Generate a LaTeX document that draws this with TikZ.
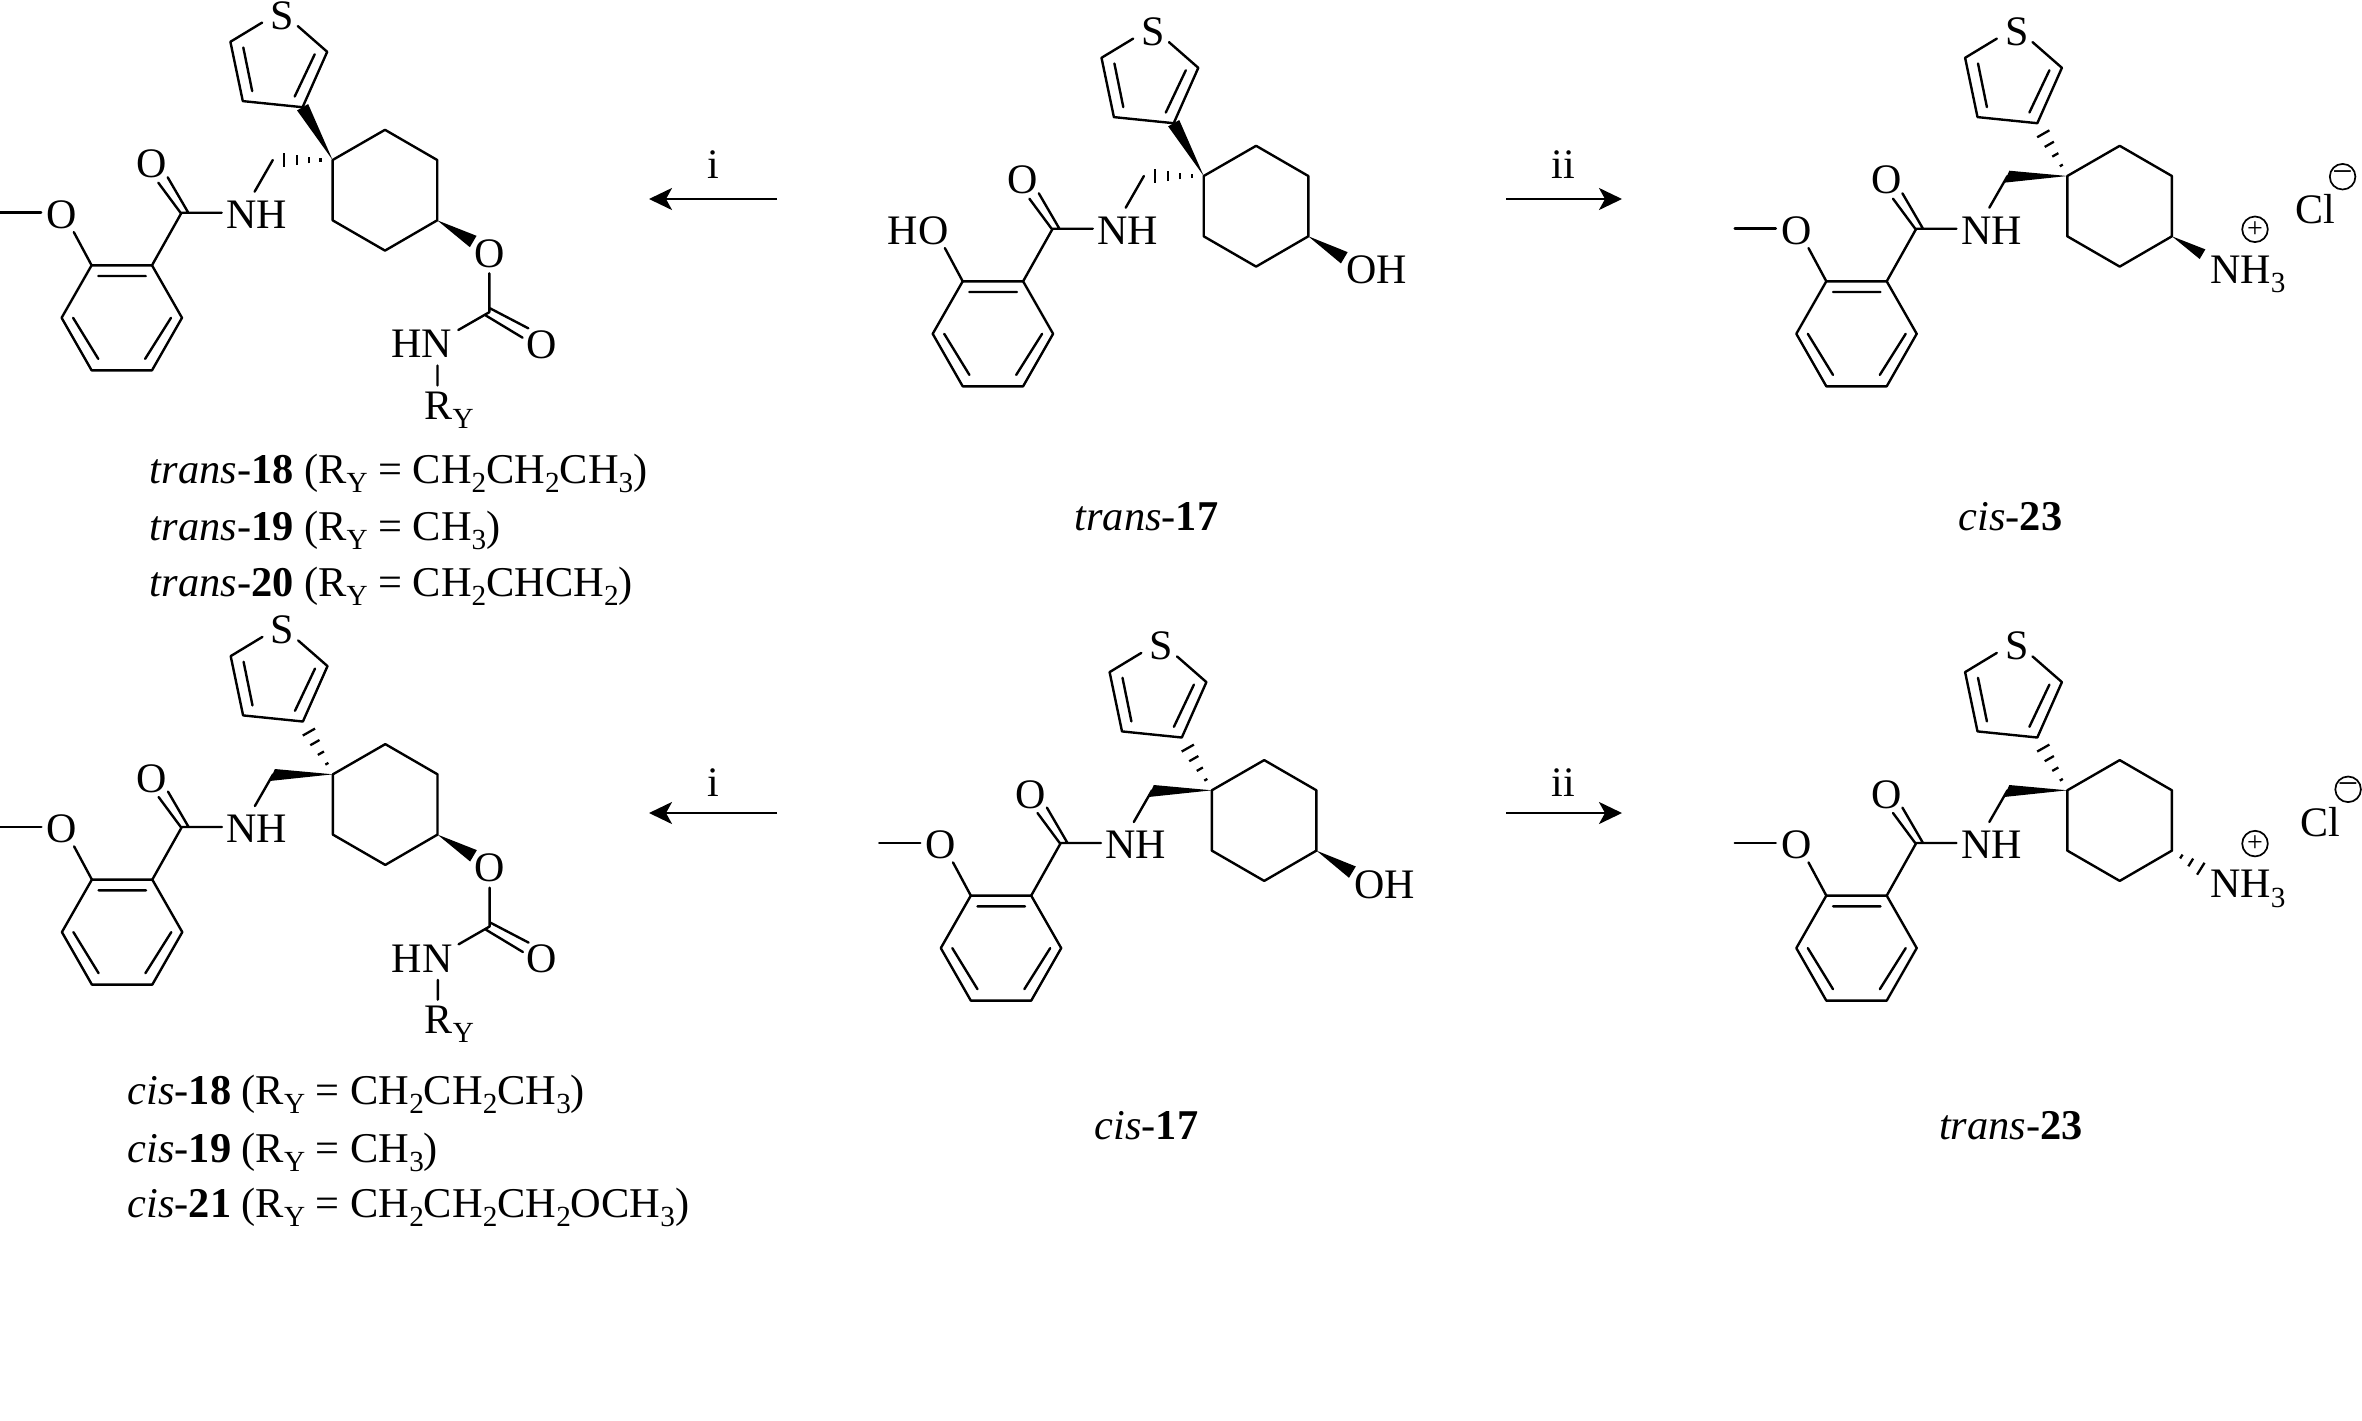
\documentclass[tikz,border=0pt]{standalone}
\usepackage{fontspec}
\setmainfont{Liberation Serif}
\usetikzlibrary{calc,arrows.meta}
\tikzset{
  bond/.style={line width=1.2pt,line cap=round,line join=round},
  tickline/.style={line width=1.15pt},
  atom/.style={inner sep=0pt,anchor=base,font=\fontsize{21}{21}\selectfont},
  atomw/.style={atom,anchor=base west},
  lab/.style={inner sep=0pt,anchor=base west,font=\fontsize{21.2}{21.2}\selectfont},
  ttl/.style={inner sep=0pt,anchor=base,font=\fontsize{21.2}{21.2}\selectfont},
  rxn/.style={line width=1.2pt,-{Stealth[length=11.5pt,width=11pt,inset=3pt]}},
  charge/.style={circle,draw,line width=.85pt,minimum size=12.8pt,inner sep=0pt,font=\fontsize{14}{14}\selectfont}
}
\newcommand{\lo}[1]{{\fontsize{14.6}{14.6}\selectfont\raisebox{-4.6pt}{#1}}}
\newcommand{\hashb}[4]{\foreach \tt in {#4}{\draw[tickline] ($(#1)!\tt!(#2)!#3*\tt*1pt!90:(#2)$) -- ($(#1)!\tt!(#2)!#3*\tt*1pt!-90:(#2)$);}}
\newcommand{\wedgeb}[3]{\fill ($(#2)!#3!90:(#1)$) -- (#1) -- ($(#2)!#3!-90:(#1)$) -- cycle;}
% common skeleton, local origin = quaternary carbon Q
\newcommand{\molcore}{%
  \coordinate (Q) at (0,0);
  \coordinate (r1) at (52.4,-30.2);\coordinate (r2) at (104.6,0);\coordinate (r3) at (104.6,60.3);
  \coordinate (r4) at (52.4,90.6);\coordinate (r5) at (0,60.3);
  \draw[bond] (Q)--(r1)--(r2)--(r3)--(r4)--(r5)--cycle;
  % thiophene
  \coordinate (t1) at (-30,-52.8);\coordinate (t2) at (-89.8,-58.9);\coordinate (t3) at (-102.2,-118.2);
  \coordinate (t4) at (-5.4,-108.2);\coordinate (te1) at (-70.5,-137.4);\coordinate (te2) at (-34.8,-133.9);
  \coordinate (ti1) at (-89.3,-112.5);\coordinate (ti2) at (-80.4,-68.9);
  \coordinate (ti3) at (-17.9,-105.7);\coordinate (ti4) at (-37.9,-63.5);
  \node[atom] (S) at (-50.4,-131) {S};
  \draw[bond] (te1)--(t3)--(t2)--(t1)--(t4)--(te2);
  \draw[bond] (ti1)--(ti2) (ti3)--(ti4);
  % benzene
  \coordinate (b1) at (-241,105.3);\coordinate (b2) at (-180.6,105.3);\coordinate (b3) at (-150.6,157.8);
  \coordinate (b4) at (-180.6,210.3);\coordinate (b5) at (-241,210.3);\coordinate (b6) at (-271,157.8);
  \draw[bond] (b1)--(b2)--(b3)--(b4)--(b5)--(b6)--cycle;
  \coordinate (bi1) at (-234.3,116);\coordinate (bi2) at (-186.8,116);
  \coordinate (bi3) at (-161.6,157.8);\coordinate (bi4) at (-187.5,198.9);
  \coordinate (bi5) at (-259.5,157.8);\coordinate (bi6) at (-234.3,198.9);
  \draw[bond] (bi1)--(bi2) (bi3)--(bi4) (bi5)--(bi6);
  % amide
  \coordinate (cc) at (-151.5,53.5);\coordinate (co1) at (-174.3,22.7);
  \coordinate (co2) at (-164.9,17.3);\coordinate (co3) at (-144.3,52.7);
  \coordinate (cs) at (-151.5,52.7);
  \coordinate (cn) at (-110.9,52.7);\coordinate (ne) at (-78,31.7);\coordinate (ch) at (-59.8,0);
  \node[atom] (Oc) at (-180.8,17.9) {O};
  \node[atom] (NH) at (-75.9,68.5) {NH};
  \draw[bond] (b2)--(cc)--(co1) (co2)--(co3) (cs)--(cn) (ne)--(ch);
  % aryl C--O
  \coordinate (ao) at (-258.8,72.1);
  \draw[bond] (b1)--(ao);
}
% methoxy
\newcommand{\molome}{%
  \node[atom] (Om) at (-271,68.5) {O};
  \coordinate (me1) at (-332.6,52.5);\coordinate (me2) at (-291.5,52.5);
  \draw[bond] (me1)--(me2);
}
% carbamate on r3
\newcommand{\molcarb}{%
  \coordinate (ow) at (140.6,81.5);\wedgeb{r3}{ow}{3.3pt}
  \node[atom] (Oe) at (156.7,107.5) {O};
  \coordinate (oe) at (156.7,113.3);\coordinate (cb) at (156.7,152.2);
  \coordinate (d0) at (152.4,155);\coordinate (d1) at (190,177.7);
  \coordinate (d2) at (157.4,148.3);\coordinate (d3) at (195.7,168.3);
  \coordinate (hn) at (125.7,170);\coordinate (n1) at (104.9,205.6);\coordinate (n2) at (104.9,225.4);
  \node[atom] (Od) at (209,198.6) {O};
  \node[atom] (HN) at (89.3,197.7) {HN};
  \node[atomw] (RY) at (91.5,259) {R\lo{Y}};
  \draw[bond] (oe)--(cb)--(hn) (d0)--(d1) (d2)--(d3) (n1)--(n2);
}
\newcommand{\molhydroxy}{%
  \coordinate (ow) at (140.6,81.8);\wedgeb{r3}{ow}{3.3pt}
  \node[atom] (OH) at (172.8,107.8) {OH};
}
\newcommand{\molammon}[4]{% Cl left, Cl base, minus x, minus y
  \node[atomw] (NH3) at (142.5,107.5) {NH\lo{3}};
  \node[charge] (plus) at (187.7,53.3) {+};
  \node[atomw] (Cl) at (#1,#2) {Cl};
  \node[charge,font=\fontsize{18}{18}\selectfont] (minus) at (#3,#4) {−};
}
% stereo variants
\newcommand{\transstereo}{%
  \wedgeb{Q}{t1}{3.2pt}
  \hashb{Q}{ch}{4.3}{.2,.4,.6,.81}
}
\newcommand{\cisstereo}{%
  \coordinate (w1) at (-58,-5.3);\coordinate (w2) at (-63.3,6.7);
  \fill (Q)--(w1)--(w2)--cycle;
  \hashb{Q}{t1}{4.4}{.2,.4,.6,.8}
}
\begin{document}
\begin{tikzpicture}[x=0.5pt,y=-0.5pt]
\useasboundingbox (0,0) rectangle (2362,1420);
\fill[white] (0,0) rectangle (2362,1420);

% trans-18/19/20
\begin{scope}[shift={(332.6,160)},name prefix=a-]
  \molcore \molome \molcarb \transstereo
\end{scope}
% trans-17
\begin{scope}[shift={(1203.7,176)},name prefix=b-]
  \molcore \molhydroxy \transstereo
  \node[atom] (HO) at (-285.7,68.5) {HO};
\end{scope}
% cis-23
\begin{scope}[shift={(2067.3,176)},name prefix=c-]
  \molcore \molome \cisstereo
  \coordinate (nw) at (135.2,78.2);\wedgeb{r3}{nw}{2.8pt}
  \molammon{227.7}{47}{275.3}{0.7}
\end{scope}
% cis-18/19/21
\begin{scope}[shift={(332.9,774.3)},name prefix=d-]
  \molcore \molome \molcarb \cisstereo
\end{scope}
% cis-17
\begin{scope}[shift={(1211.8,790.3)},name prefix=e-]
  \molcore \molome \molhydroxy \cisstereo
\end{scope}
% trans-23
\begin{scope}[shift={(2067.3,790.3)},name prefix=f-]
  \molcore \molome \cisstereo
  \coordinate (nw) at (136,80);\hashb{r3}{nw}{3.8}{.3,.6,.92}
  \molammon{233}{46}{280.8}{-1}
\end{scope}

% labels
\node[lab] (l1) at (149.5,483.6) {\textit{trans}-\textbf{18} (R\lo{Y} = CH\lo{2}CH\lo{2}CH\lo{3})};
\node[lab] (l2) at (149.5,540.5) {\textit{trans}-\textbf{19} (R\lo{Y} = CH\lo{3})};
\node[lab] (l3) at (149.5,596.5) {\textit{trans}-\textbf{20} (R\lo{Y} = CH\lo{2}CHCH\lo{2})};
\node[lab] (l4) at (127.2,1104) {\textit{cis}-\textbf{18} (R\lo{Y} = CH\lo{2}CH\lo{2}CH\lo{3})};
\node[lab] (l5) at (127.2,1162) {\textit{cis}-\textbf{19} (R\lo{Y} = CH\lo{3})};
\node[lab] (l6) at (127.2,1217.5) {\textit{cis}-\textbf{21} (R\lo{Y} = CH\lo{2}CH\lo{2}CH\lo{2}OCH\lo{3})};
\node[ttl] (t1) at (1146.5,530) {\textit{trans}-\textbf{17}};
\node[ttl] (t2) at (2010.5,530) {\textit{cis}-\textbf{23}};
\node[ttl] (t3) at (1146.5,1139) {\textit{cis}-\textbf{17}};
\node[ttl] (t4) at (2011,1139) {\textit{trans}-\textbf{23}};

% arrows
\coordinate (u1) at (777,199);\coordinate (u2) at (649,199);
\coordinate (u3) at (1506,199);\coordinate (u4) at (1622,199);
\coordinate (v1) at (777,813);\coordinate (v2) at (649,813);
\coordinate (v3) at (1506,813);\coordinate (v4) at (1622,813);
\draw[rxn] (u1)--(u2);\draw[rxn] (u3)--(u4);\draw[rxn] (v1)--(v2);\draw[rxn] (v3)--(v4);
\node[atom] (i1) at (713.5,178) {i};
\node[atom] (i2) at (1563.5,178) {ii};
\node[atom] (i3) at (713.5,796) {i};
\node[atom] (i4) at (1563.5,796) {ii};
\end{tikzpicture}
\end{document}
